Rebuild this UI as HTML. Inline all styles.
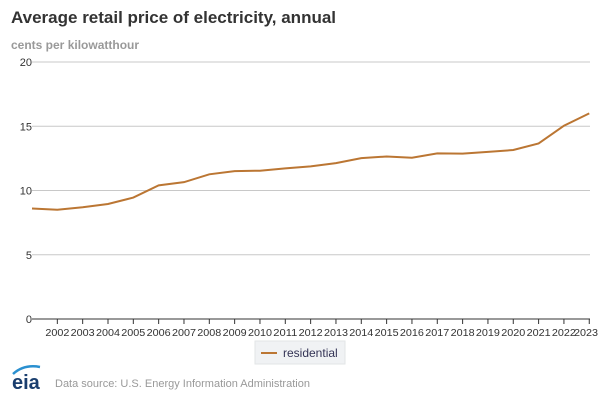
<!DOCTYPE html>
<html><head><meta charset="utf-8"><style>
body{margin:0;width:600px;height:400px;background:#fff;font-family:"Liberation Sans",sans-serif;overflow:hidden;position:relative}
.t{position:absolute;left:11px;top:8px;font-size:17px;font-weight:bold;color:#333}
.u{position:absolute;left:11px;top:38px;font-size:12px;font-weight:bold;color:#999}
svg{position:absolute;left:0;top:0}
</style></head><body>
<div class="t">Average retail price of electricity, annual</div>
<div class="u">cents per kilowatthour</div>
<svg id="c" width="600" height="400"></svg>
<script>
const years=[2001,2002,2003,2004,2005,2006,2007,2008,2009,2010,2011,2012,2013,2014,2015,2016,2017,2018,2019,2020,2021,2022,2023];
const residential=[8.6,8.5,8.7,8.95,9.45,10.4,10.65,11.26,11.51,11.54,11.72,11.88,12.13,12.52,12.65,12.55,12.89,12.87,13.01,13.15,13.66,15.04,16.0];
const yTicks=[0,5,10,15,20];
const NS="http://www.w3.org/2000/svg",s=document.getElementById('c');
const x=y=>32+(y-2001)*25.33, yy=v=>319-v*12.85;
function el(t,a,p){const e=document.createElementNS(NS,t);for(const k in a)e.setAttribute(k,a[k]);(p||s).appendChild(e);return e;}
yTicks.forEach(v=>{
 const l=el('line',{x1:32,x2:590,y1:yy(v),y2:yy(v),stroke:v?'#c8c8c8':'#333','stroke-width':1});
 
 
 const t=el('text',{x:32,y:yy(v)+4,'text-anchor':'end','font-size':11,fill:'#333','font-family':'Liberation Sans'});
 t.textContent=v;
 
 
});
years.slice(1).forEach(y=>{
 const tk=el('line',{x1:x(y),x2:x(y),y1:319,y2:324,stroke:'#333'});
 
 
 const t=el('text',{x:Math.min(x(y),586),y:336,'text-anchor':'middle','font-size':10,fill:'#333','font-family':'Liberation Sans','textLength':24,'lengthAdjust':'spacingAndGlyphs'});
 t.textContent=y;
 
 
});
const p=el('polyline',{points:years.map((y,i)=>x(y)+','+yy(residential[i])).join(' '),fill:'none',stroke:'#bb7633','stroke-width':2});


const g=el('g',{});


el('rect',{x:255,y:341,width:90,height:23,fill:'#f0f2f4',stroke:'#e2e4e6'},g);
el('line',{x1:261,x2:277,y1:353,y2:353,stroke:'#bb7633','stroke-width':2},g);
const lt=el('text',{x:283,y:357,'font-size':12,fill:'#335','font-family':'Liberation Sans'},g);lt.textContent='residential';
const lg=el('text',{x:12,y:389,'font-size':20,fill:'#1a3e6e','font-family':'Liberation Sans','font-weight':'bold'});lg.textContent='eia';


el('path',{d:'M13 374 Q24 364 40 367',fill:'none',stroke:'#2a90d0','stroke-width':2.5});
const ds=el('text',{x:55,y:387,'font-size':11,fill:'#999','font-family':'Liberation Sans'});ds.textContent='Data source: U.S. Energy Information Administration';


</script>
</body></html>
